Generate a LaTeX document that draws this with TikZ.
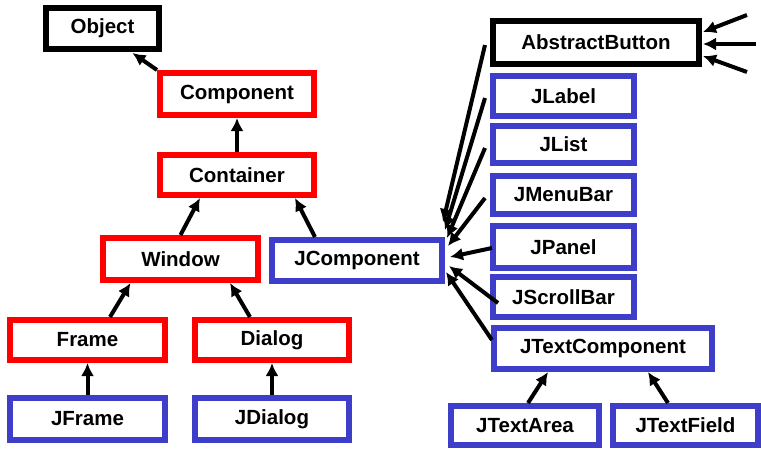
\documentclass[tikz,border=0pt]{standalone}
\usepackage{fontspec}
\setmainfont{Liberation Sans}
\usetikzlibrary{arrows.meta,calc}
\definecolor{jblue}{RGB}{62,62,202}
\definecolor{jred}{RGB}{255,0,0}
\begin{document}
\begin{tikzpicture}[x=1pt,y=-1pt,
  box/.style={draw,line width=6pt,fill=white,inner sep=0pt,font=\fontsize{20.5}{24}\selectfont\bfseries},
  blackbox/.style={box,draw=black},
  redbox/.style={box,draw=jred},
  bluebox/.style={box,draw=jblue},
  inh/.style={line width=4pt,-{Latex[length=13pt,width=13pt]}}]
\useasboundingbox (0,0) rectangle (761,450);
% awt side
\node[blackbox,minimum width=113pt,minimum height=41pt] (Object) at (102.5,28.5) {Object};
\node[redbox,minimum width=154pt,minimum height=42pt] (Component) at (237,94) {Component};
\node[redbox,minimum width=154pt,minimum height=40pt] (Container) at (237,175) {Container};
\node[redbox,minimum width=155pt,minimum height=42pt] (Window) at (180.5,259) {Window};
\node[bluebox,minimum width=170pt,minimum height=41pt] (JComponent) at (357,260.5) {JComponent};
\node[redbox,minimum width=155pt,minimum height=40pt] (Frame) at (87.5,340) {Frame};
\node[redbox,minimum width=154pt,minimum height=40pt] (Dialog) at (272,340) {Dialog};
\node[bluebox,minimum width=155pt,minimum height=42pt] (JFrame) at (87.5,419) {JFrame};
\node[bluebox,minimum width=154pt,minimum height=42pt] (JDialog) at (272,419) {JDialog};
% swing side
\node[blackbox,minimum width=206pt,minimum height=43pt] (AbstractButton) at (596,42.5) {AbstractButton};
\node[bluebox,minimum width=141pt,minimum height=40pt] (JLabel) at (563.5,96) {JLabel};
\node[bluebox,minimum width=141pt,minimum height=37pt] (JList) at (563.5,144.5) {JList};
\node[bluebox,minimum width=141pt,minimum height=38pt] (JMenuBar) at (563.5,195) {JMenuBar};
\node[bluebox,minimum width=141pt,minimum height=42pt] (JPanel) at (563.5,247) {JPanel};
\node[bluebox,minimum width=141pt,minimum height=40pt] (JScrollBar) at (563.5,297) {JScrollBar};
\node[bluebox,minimum width=218pt,minimum height=41pt] (JTextComponent) at (603,348.5) {JTextComponent};
\node[bluebox,minimum width=148pt,minimum height=39pt] (JTextArea) at (525,425.5) {JTextArea};
\node[bluebox,minimum width=145pt,minimum height=39pt] (JTextField) at (685.5,425.5) {JTextField};
% free ends at the right border
\coordinate (r1) at (747,15);
\coordinate (r2) at (756,44);
\coordinate (r3) at (747,72);
% connectors
\draw[inh] (Component.north west) -- ($(Object.south)+(30,1)$);
\draw[inh] (Container.north) -- (Component.south);
\draw[inh] (Window.north) -- ($(Container.south)+(-37,0)$);
\draw[inh] ($(JComponent.north)+(-42,0)$) -- ($(Container.south)+(58,0)$);
\draw[inh] ($(Frame.north)+(22.5,0)$) -- ($(Window.south)+(-50,0)$);
\draw[inh] ($(Dialog.north)+(-22,0)$) -- ($(Window.south)+(49.5,0)$);
\draw[inh] (JFrame.north) -- (Frame.south);
\draw[inh] (JDialog.north) -- (Dialog.south);
\draw[inh] ($(JTextArea.north)+(3,0)$) -- ($(JTextComponent.south)+(-55,0)$);
\draw[inh] ($(JTextField.north)+(-17.5,0)$) -- ($(JTextComponent.south)+(45,0)$);
% fan into JComponent
\draw[inh] ($(AbstractButton.west)+(-5,2.5)$) -- ($(JComponent.east)+(-2,-38.5)$);
\draw[inh] ($(JLabel.west)+(-5,2)$) -- ($(JComponent.east)+(0,-30.5)$);
\draw[inh] ($(JList.west)+(-5,3.5)$) -- ($(JComponent.east)+(2,-22.5)$);
\draw[inh] ($(JMenuBar.west)+(-5,3)$) -- ($(JComponent.east)+(3,-14.5)$);
\draw[inh] ($(JPanel.west)+(2,1)$) -- ($(JComponent.east)+(5,-3.5)$);
\draw[inh] ($(JScrollBar.west)+(8,6)$) -- ($(JComponent.east)+(4,5.5)$);
\draw[inh] ($(JTextComponent.west)+(1,-8.5)$) -- ($(JComponent.east)+(1,11.5)$);
% subclasses of AbstractButton (off picture)
\draw[inh] (r1) -- ($(AbstractButton.east)+(1,-10.5)$);
\draw[inh] (r2) -- ($(AbstractButton.east)+(1,1.5)$);
\draw[inh] (r3) -- ($(AbstractButton.east)+(1,13.5)$);
\end{tikzpicture}
\end{document}
